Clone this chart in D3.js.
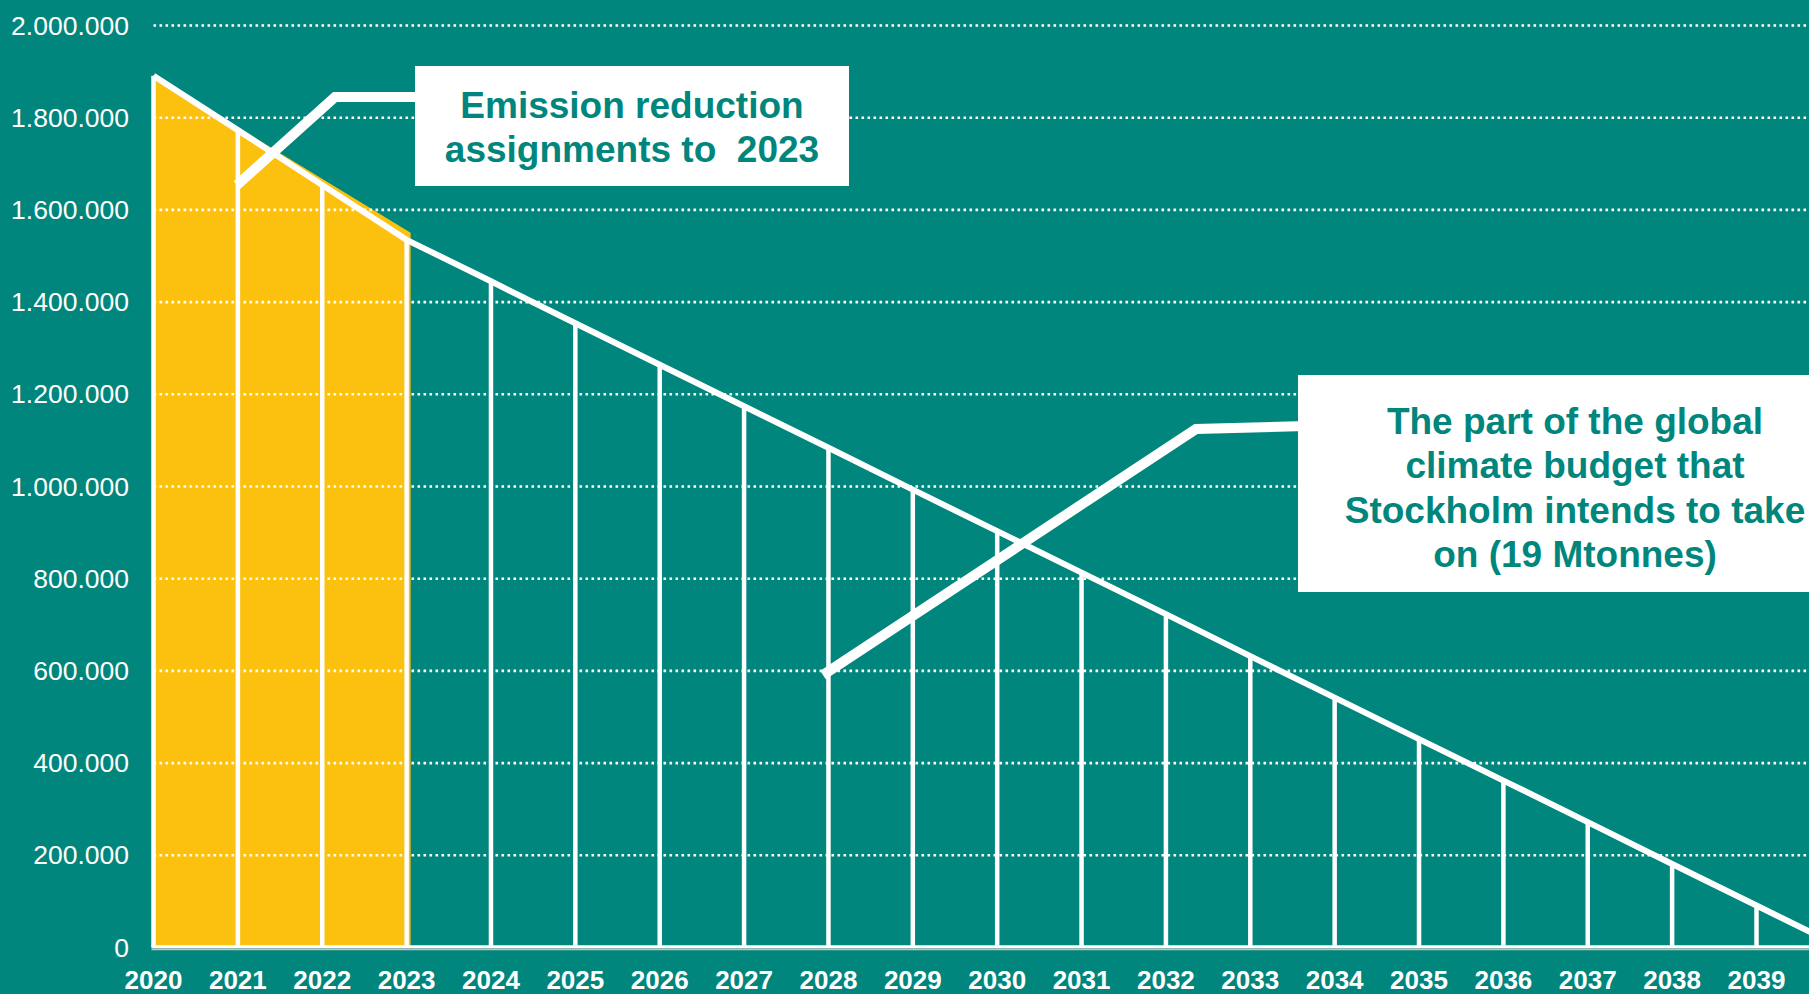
<!DOCTYPE html>
<html>
<head>
<meta charset="utf-8">
<script src="https://cdn.jsdelivr.net/npm/d3@7"></script>
<style>
  html, body { margin: 0; padding: 0; background: #00867C; overflow: hidden; }
  svg { display: block; }
  text { font-family: "Liberation Sans", Arial, Helvetica, sans-serif; }
</style>
</head>
<body>
<svg id="chart" width="1809" height="994"></svg>
<script>
// ---------- data ----------
const years = [2020, 2021, 2022, 2023, 2024, 2025, 2026, 2027, 2028, 2029,
               2030, 2031, 2032, 2033, 2034, 2035, 2036, 2037, 2038, 2039, 2040];
const emissions = [1890000, 1772000, 1653000, 1534000, 1444000, 1353000, 1263000,
                   1173000, 1083000, 992000, 902000, 812000, 722000, 631000,
                   541000, 451000, 361000, 271000, 180000, 90000, 0];
const assignedYears = [2020, 2021, 2022, 2023];          // yellow part
const yTicks = [0, 200000, 400000, 600000, 800000, 1000000, 1200000,
                1400000, 1600000, 1800000, 2000000];
const yTickLabels = ["0", "200.000", "400.000", "600.000", "800.000", "1.000.000",
                     "1.200.000", "1.400.000", "1.600.000", "1.800.000", "2.000.000"];
const xTickYears = years.slice(0, 20);                    // 2020 … 2039
const note1 = ["Emission reduction", "assignments to  2023"];
const note2 = ["The part of the global", "climate budget that",
               "Stockholm intends to take", "on (19 Mtonnes)"];

// ---------- setup ----------
const TEAL = "#00867C", YELLOW = "#FCC10F", WHITE = "#FFFFFF";
const svg = d3.select("#chart");
const data = years.map((yr, i) => ({ year: yr, value: emissions[i] }));

const x = d3.scaleLinear().domain([2020, 2039]).range([153.5, 1756.5]);
const y = d3.scaleLinear().domain([0, 2000000]).range([947, 25]);

svg.append("rect").attr("width", 1809).attr("height", 994).attr("fill", TEAL);

// yellow area (assignments to 2023)
const yellowData = data.filter(d => assignedYears.includes(d.year));
const first = yellowData[0], last = yellowData[yellowData.length - 1];
const yellowPts = [
  [x(first.year), y(0)],
  [x(first.year), y(first.value)],
  [x(last.year) + 4, y(last.value) - 7],
  [x(last.year) + 4, y(0)]
];
svg.append("path")
  .attr("d", d3.line()(yellowPts) + "Z")
  .attr("fill", YELLOW);

// dotted gridlines
const yAxis = d3.axisLeft(y).tickValues(yTicks.filter(v => v > 0))
  .tickSize(-(1809 - x(2020))).tickFormat("");
const gGrid = svg.append("g").attr("transform", `translate(${x(2020)},0)`).call(yAxis);
gGrid.select(".domain").remove();
gGrid.selectAll(".tick line")
  .attr("stroke", WHITE).attr("stroke-width", 2.6)
  .attr("stroke-dasharray", "2.6 3.4");

// y tick labels
svg.append("g").selectAll("text").data(yTicks).join("text")
  .attr("x", 129).attr("y", d => y(d))
  .attr("dy", "0.36em")
  .attr("text-anchor", "end")
  .attr("fill", WHITE)
  .attr("font-size", 26.5)
  .text((d, i) => yTickLabels[i]);

// vertical year lines
svg.append("g").selectAll("line").data(data.filter(d => d.year <= 2039)).join("line")
  .attr("x1", d => x(d.year)).attr("x2", d => x(d.year))
  .attr("y1", y(0)).attr("y2", d => y(d.value))
  .attr("stroke", WHITE).attr("stroke-width", 4.5);

// baseline (white + grey)
svg.append("line").attr("x1", x(2020) - 2).attr("x2", 1809)
  .attr("y1", y(0) - 0.3).attr("y2", y(0) - 0.3)
  .attr("stroke", WHITE).attr("stroke-width", 2.8);
svg.append("line").attr("x1", x(2020) - 2).attr("x2", 1809)
  .attr("y1", y(0) + 2.3).attr("y2", y(0) + 2.3)
  .attr("stroke", "#C4C4C4").attr("stroke-width", 2);

// diagonal budget line
svg.append("path")
  .datum(data)
  .attr("d", d3.line().x(d => x(d.year)).y(d => y(d.value)))
  .attr("fill", "none").attr("stroke", WHITE).attr("stroke-width", 6)
  .attr("stroke-linejoin", "miter");

// x tick labels
svg.append("g").selectAll("text").data(xTickYears).join("text")
  .attr("x", d => x(d)).attr("y", 988.5)
  .attr("text-anchor", "middle")
  .attr("fill", WHITE)
  .attr("font-size", 26).attr("font-weight", "bold")
  .text(d => d);

// ---------- annotations ----------
// callout 1
svg.append("path")
  .attr("d", d3.line()([[237, 185], [335, 97], [420, 97]]))
  .attr("fill", "none").attr("stroke", WHITE).attr("stroke-width", 10)
  .attr("stroke-linejoin", "miter");
svg.append("rect").attr("x", 415).attr("y", 66).attr("width", 434).attr("height", 120)
  .attr("fill", WHITE);
svg.append("g").selectAll("text").data(note1).join("text")
  .attr("x", 632).attr("y", (d, i) => 117.5 + i * 44)
  .attr("text-anchor", "middle").attr("fill", TEAL)
  .attr("font-size", 37).attr("font-weight", "bold")
  .attr("xml:space", "preserve")
  .style("white-space", "pre")
  .text(d => d);

// callout 2
svg.append("path")
  .attr("d", d3.line()([[823, 675], [1196, 429], [1305, 426]]))
  .attr("fill", "none").attr("stroke", WHITE).attr("stroke-width", 10)
  .attr("stroke-linejoin", "miter");
svg.append("rect").attr("x", 1298).attr("y", 375).attr("width", 520).attr("height", 217)
  .attr("fill", WHITE);
svg.append("g").selectAll("text").data(note2).join("text")
  .attr("x", 1575).attr("y", (d, i) => 433.5 + i * 44.5)
  .attr("text-anchor", "middle").attr("fill", TEAL)
  .attr("font-size", 37).attr("font-weight", "bold")
  .text(d => d);
</script>
</body>
</html>
